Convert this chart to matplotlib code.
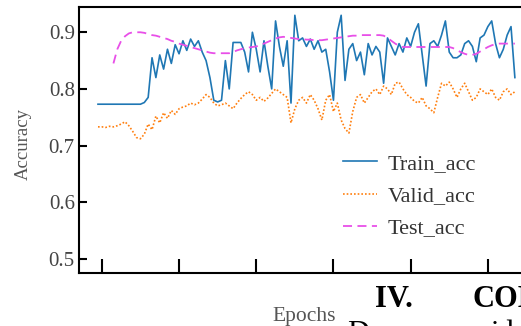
import numpy as np
import matplotlib
matplotlib.use("Agg")
import matplotlib.pyplot as plt

nan = np.nan
train_acc = [0.773]*12 + [
    0.776, 0.785, 0.855, 0.82, 0.86, 0.835, 0.87, 0.845, 0.878, 0.862,
    0.885, 0.868, 0.888, 0.875, 0.885, 0.865, 0.85, 0.82, 0.78, 0.777,
    0.78, 0.85, 0.80, 0.882, 0.882, 0.882, 0.865, 0.83, 0.90, 0.87,
    0.83, 0.885, 0.84, 0.80, 0.92, 0.875, 0.84, 0.885, 0.775, 0.93,
    0.885, 0.89, 0.875, 0.888, 0.87, 0.885, 0.865, 0.87, 0.83, 0.78,
    0.90, 0.93, 0.815, 0.87, 0.88, 0.85, 0.865, 0.825, 0.88, 0.86,
    0.875, 0.865, 0.81, 0.89, 0.875, 0.86, 0.88, 0.865, 0.89, 0.875,
    0.90, 0.915, 0.86, 0.805, 0.88, 0.885, 0.875, 0.895, 0.92, 0.865,
    0.855, 0.855, 0.86, 0.88, 0.885, 0.875, 0.848, 0.89, 0.895, 0.91,
    0.92, 0.88, 0.855, 0.87, 0.895, 0.91, 0.82]

valid_acc = [
    0.733, 0.733, 0.732, 0.734, 0.733, 0.735, 0.738, 0.742, 0.735, 0.725,
    0.714, 0.712, 0.72, 0.738, 0.728, 0.752, 0.74, 0.758, 0.748, 0.762,
    0.755, 0.765, 0.768, 0.77, 0.775, 0.772, 0.775, 0.782, 0.79, 0.785,
    0.775, 0.77, 0.772, 0.775, 0.77, 0.765, 0.775, 0.783, 0.79, 0.795,
    0.79, 0.78, 0.785, 0.778, 0.784, 0.792, 0.80, 0.795, 0.79, 0.785,
    0.74, 0.765, 0.78, 0.785, 0.775, 0.79, 0.78, 0.765, 0.745, 0.78,
    0.79, 0.76, 0.775, 0.745, 0.73, 0.722, 0.76, 0.785, 0.79, 0.775,
    0.785, 0.795, 0.80, 0.79, 0.805, 0.80, 0.79, 0.81, 0.812, 0.80,
    0.79, 0.785, 0.778, 0.775, 0.785, 0.77, 0.765, 0.758, 0.785, 0.81,
    0.805, 0.812, 0.80, 0.785, 0.80, 0.81, 0.795, 0.78, 0.785, 0.80,
    0.795, 0.79, 0.80, 0.785, 0.78, 0.795, 0.80, 0.79, 0.795]

test_acc = [nan]*4 + [
    0.845, 0.87, 0.885, 0.893, 0.898, 0.90, 0.90, 0.90, 0.899, 0.897,
    0.895, 0.894, 0.892, 0.89, 0.888, 0.885, 0.883, 0.88, 0.878, 0.876,
    0.874, 0.872, 0.87, 0.868, 0.866, 0.864, 0.863, 0.863, 0.863, 0.863,
    0.863, 0.865, 0.868, 0.87, 0.872, 0.873, 0.874, 0.875, 0.877, 0.88,
    0.883, 0.886, 0.889, 0.891, 0.892, 0.891, 0.89, 0.889, 0.888, 0.888,
    0.887, 0.887, 0.886, 0.886, 0.886, 0.887, 0.888, 0.889, 0.89, 0.891,
    0.892, 0.893, 0.894, 0.894, 0.895, 0.895, 0.895, 0.895, 0.895, 0.895,
    0.894, 0.89, 0.885, 0.88, 0.876, 0.874, 0.874, 0.874, 0.874, 0.874,
    0.874, 0.874, 0.874, 0.874, 0.874, 0.874, 0.874, 0.874, 0.872, 0.868,
    0.865, 0.862, 0.86, 0.86, 0.862, 0.866, 0.87, 0.874, 0.877, 0.879,
    0.88, 0.88, 0.88, 0.88, 0.88]

epochs = np.arange(len(train_acc))
xtick_pos = [1, 21, 41, 61, 81, 101]
ytick_vals = [0.5, 0.6, 0.7, 0.8, 0.9]
ytick_labels = ["0.5", "0.6", "0.7", "0.8", "0.9"]
series_labels = ["Train_acc", "Valid_acc", "Test_acc"]

serif = ["Liberation Serif", "DejaVu Serif"]

W, H = 521, 326
fig = plt.figure(figsize=(W / 100, H / 100), dpi=100)
ax = fig.add_axes([79 / W, (H - 272.7) / H, (570 - 79) / W, (272.7 - 6.5) / H])

ax.plot(epochs, train_acc, color="#1f77b4", lw=1.2, label=series_labels[0])
ax.plot(epochs, valid_acc, color="#ff7f0e", lw=1.2, ls=(0, (1, 1.2)), label=series_labels[1])
ax.plot(epochs, test_acc, color="#e84fe8", lw=1.3, ls=(0, (5, 3)), label=series_labels[2])

ax.set_xlim(-4.92, -4.92 + (570 - 79) / 3.86)
ax.set_ylim(0.4755, 0.9455)
ax.set_xticks(xtick_pos)
ax.set_xticklabels([])
ax.set_yticks(ytick_vals)
ax.set_yticklabels(ytick_labels, family=serif, fontsize=15, color="#444444")
ax.tick_params(axis="y", direction="in", length=5.8, width=1.5, pad=3)
ax.tick_params(axis="x", direction="in", length=9.9, width=1.5)
for s in ax.spines.values():
    s.set_linewidth(1.5)

leg = ax.legend(frameon=False, prop={"family": serif, "size": 16},
                handlelength=1.55, handletextpad=0.45, labelspacing=0.52,
                loc="center left", bbox_to_anchor=(334 / W, 1 - 196 / H),
                bbox_transform=fig.transFigure, borderaxespad=0)
for t in leg.get_texts():
    t.set_color("#333333")

fig.text(23 / W, 1 - 144.5 / H, "Accuracy", rotation=90, ha="center", va="center",
         family=serif, fontsize=13.5, color="#555555")
fig.text(304 / W, 1 - 317 / H, "Epochs", ha="center", va="center",
         family=serif, fontsize=15.5, color="#555555")
fig.text(375 / W, 1 - 307 / H, "IV.", ha="left", va="baseline",
         family=serif, fontsize=22, fontweight="bold", color="black")
fig.text(472 / W, 1 - 307 / H, "CONCLUSION", ha="left", va="baseline",
         family=serif, fontsize=22, fontweight="bold", color="black")
fig.text(347 / W, 1 - 342 / H, "D", ha="left", va="baseline",
         family=serif, fontsize=22, color="black")
fig.text(490 / W, 1 - 342 / H, "id", ha="left", va="baseline",
         family=serif, fontsize=22, color="black")

fig.savefig("out.png", dpi=100)
